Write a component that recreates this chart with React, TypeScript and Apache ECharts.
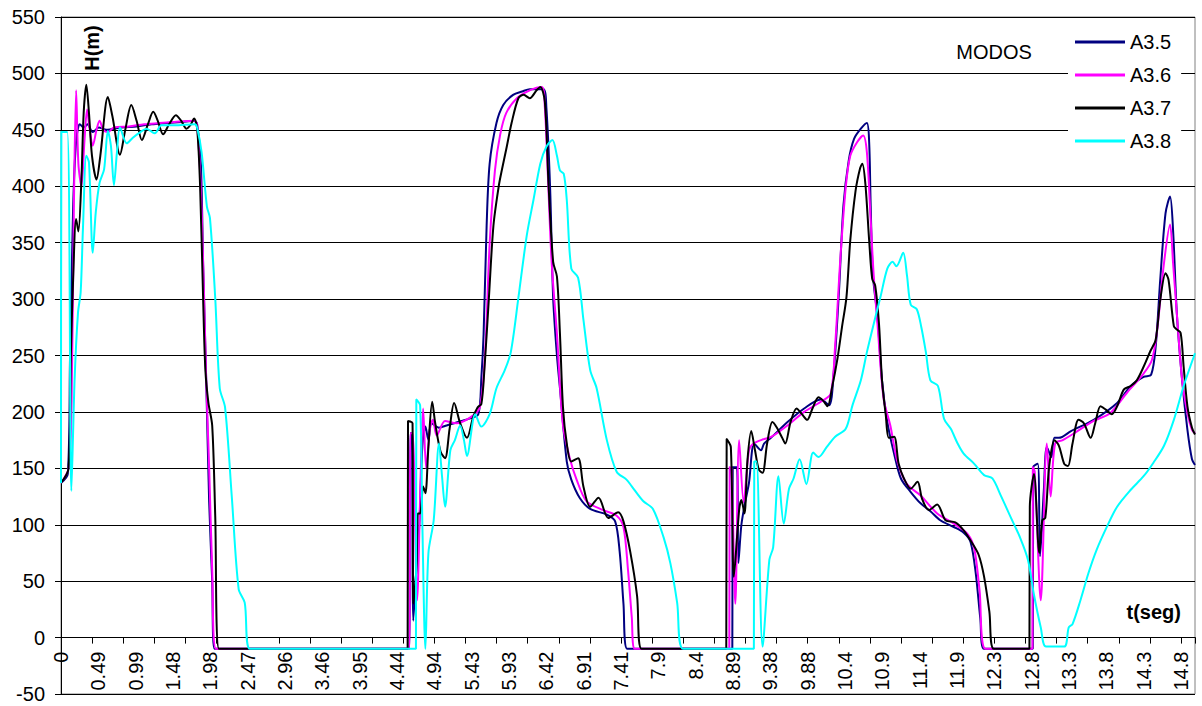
import React, { useEffect, useRef } from "react";
import * as echarts from "echarts";

const SERIES_NAMES = ["A3.5", "A3.6", "A3.7", "A3.8"];
const SERIES_COLORS = ["#000080", "#FF00FF", "#000000", "#00FFFF"];

const X_TICK_LABELS = [
  "0", "0.49", "0.99", "1.48", "1.98", "2.47", "2.96", "3.46", "3.95", "4.44",
  "4.94", "5.43", "5.93", "6.42", "6.91", "7.41", "7.9", "8.4", "8.89", "9.38",
  "9.88", "10.4", "10.9", "11.4", "11.9", "12.3", "12.8", "13.3", "13.8", "14.3", "14.8",
];
const LABEL_STEP = 0.49383;
const TICK_STEP = (LABEL_STEP * 5) / 6;
const X_MAX = 15.0;
const Y_MIN = -50;
const Y_MAX = 550;
const Y_STEP = 50;

// [t (s), H (m)]
const A35: number[][] = [
  [0, 137], [0.09, 145], [0.12, 250], [0.16, 380], [0.2, 440], [0.25, 455], [0.3, 452], [0.35, 455],
  [0.42, 448], [0.5, 452], [0.6, 450], [0.8, 452], [1.0, 453], [1.2, 455], [1.4, 456], [1.6, 457],
  [1.76, 458], [1.8, 455], [1.85, 420], [1.88, 330], [1.92, 230], [1.96, 120], [2.0, 50], [2.03, -10],
  [4.61, -10], [4.62, 181], [4.64, 181], [4.66, 15], [4.7, 60], [4.74, 101], [4.78, 170], [4.82, 187],
  [4.86, 175], [4.9, 190], [5.0, 186], [5.1, 188], [5.2, 190], [5.3, 192], [5.4, 194], [5.52, 198],
  [5.56, 230], [5.59, 269], [5.63, 365], [5.67, 420], [5.76, 456], [5.85, 472], [5.98, 481], [6.1, 484],
  [6.2, 486], [6.38, 486], [6.42, 470], [6.47, 398], [6.51, 301], [6.56, 250], [6.6, 221], [6.69, 156],
  [6.75, 140], [6.86, 124], [7.0, 114], [7.22, 109], [7.33, 103], [7.39, 76], [7.44, 30], [7.49, -10],
  [8.88, -10], [8.885, 151], [8.94, 151], [8.96, 66], [9.0, 100], [9.05, 120], [9.1, 137], [9.17, 172],
  [9.26, 166], [9.3, 172], [9.39, 177], [9.61, 191], [9.83, 203], [10.05, 211], [10.16, 206], [10.22, 234],
  [10.29, 306], [10.35, 383], [10.42, 423], [10.49, 442], [10.58, 451], [10.66, 456], [10.69, 439],
  [10.71, 383], [10.74, 321], [10.8, 284], [10.86, 228], [10.93, 191], [11.02, 163], [11.11, 141],
  [11.24, 129], [11.37, 119], [11.5, 112], [11.63, 104], [11.81, 98], [11.94, 93], [12.03, 85], [12.1, 57],
  [12.16, 17], [12.21, -10],
  [12.855, -10], [12.86, 151], [12.92, 154], [12.95, 72], [13.0, 130], [13.04, 169], [13.1, 160],
  [13.14, 177], [13.2, 177], [13.36, 183], [13.66, 193], [13.97, 208], [14.15, 223], [14.32, 231],
  [14.42, 233], [14.48, 258], [14.54, 317], [14.61, 376], [14.67, 391], [14.71, 361], [14.76, 287],
  [14.83, 228], [14.9, 184], [14.96, 158], [15.0, 153],
];

const A36: number[][] = [
  [0, 137], [0.1, 150], [0.14, 210], [0.17, 380], [0.2, 485], [0.23, 420], [0.27, 400], [0.31, 440],
  [0.345, 468], [0.38, 450], [0.42, 436], [0.47, 450], [0.51, 458], [0.56, 450], [0.62, 448], [0.7, 452],
  [0.9, 453], [1.1, 455], [1.3, 456], [1.5, 457], [1.76, 458], [1.8, 455], [1.86, 380], [1.92, 230],
  [1.96, 150], [2.0, 60], [2.05, -10],
  [4.61, -10], [4.62, 181], [4.65, 181], [4.71, 33], [4.76, 150], [4.79, 203], [4.83, 150], [4.88, 185],
  [4.92, 193], [4.97, 179], [5.08, 192], [5.23, 190], [5.41, 195], [5.54, 204], [5.61, 253], [5.67, 349],
  [5.74, 414], [5.81, 446], [5.89, 465], [6.03, 478], [6.2, 485], [6.36, 488], [6.4, 470], [6.44, 410],
  [6.49, 333], [6.56, 269], [6.64, 188], [6.73, 159], [6.82, 140], [6.95, 121], [7.17, 113], [7.35, 108],
  [7.44, 98], [7.5, 60], [7.55, 18], [7.59, -10],
  [8.84, -10], [8.845, 151], [8.87, 150], [8.92, 30], [8.97, 175], [9.03, 120], [9.1, 166], [9.16, 172],
  [9.3, 176], [9.4, 178], [9.61, 188], [9.83, 200], [10.05, 209], [10.18, 216], [10.24, 259], [10.31, 337],
  [10.38, 399], [10.44, 427], [10.53, 439], [10.61, 445], [10.66, 430], [10.71, 370], [10.75, 321],
  [10.8, 278], [10.88, 212], [10.97, 188], [11.06, 157], [11.19, 136], [11.37, 126], [11.59, 110],
  [11.81, 101], [11.99, 92], [12.08, 79], [12.15, 42], [12.23, -10],
  [12.85, -10], [12.855, 151], [12.88, 147], [12.96, 33], [13.04, 172], [13.09, 125], [13.15, 172],
  [13.25, 175], [13.4, 181], [13.66, 192], [13.88, 199], [14.1, 217], [14.32, 234], [14.43, 246],
  [14.5, 273], [14.59, 332], [14.67, 366], [14.71, 332], [14.76, 287], [14.83, 228], [14.9, 199],
  [14.96, 184], [15.0, 181],
];

const A37: number[][] = [
  [0, 137], [0.1, 150], [0.13, 249], [0.16, 317], [0.2, 371], [0.23, 360], [0.27, 406], [0.3, 465],
  [0.335, 490], [0.37, 465], [0.41, 427], [0.47, 406], [0.52, 427], [0.62, 479], [0.68, 462], [0.78, 428],
  [0.85, 450], [0.93, 472], [1.0, 458], [1.07, 441], [1.15, 455], [1.22, 466], [1.28, 458], [1.35, 446],
  [1.43, 455], [1.52, 463], [1.59, 458], [1.66, 451], [1.72, 455], [1.76, 460], [1.8, 452], [1.84, 400],
  [1.88, 300], [1.91, 237], [1.95, 208], [2.0, 188], [2.04, 108], [2.09, -10],
  [4.585, -10], [4.59, 192], [4.65, 190], [4.66, 30], [4.7, 60], [4.72, 110], [4.75, 110], [4.79, 134],
  [4.82, 128], [4.86, 169], [4.91, 209], [4.95, 190], [5.02, 165], [5.08, 159], [5.14, 185], [5.2, 208],
  [5.28, 190], [5.37, 177], [5.45, 195], [5.51, 204], [5.56, 207], [5.6, 237], [5.66, 301], [5.72, 365],
  [5.79, 400], [5.83, 414], [5.89, 433], [5.96, 456], [6.05, 478], [6.12, 481], [6.2, 478], [6.29, 485],
  [6.34, 488], [6.4, 475], [6.45, 400], [6.51, 333], [6.56, 320], [6.6, 269], [6.64, 204], [6.69, 172],
  [6.75, 156], [6.84, 159], [6.91, 134], [7.0, 116], [7.11, 124], [7.24, 106], [7.37, 111], [7.44, 103],
  [7.53, 76], [7.62, 37], [7.68, -10],
  [8.8, -10], [8.805, 176], [8.86, 169], [8.9, 54], [8.97, 113], [9.0, 122], [9.04, 110], [9.08, 157],
  [9.13, 183], [9.18, 166], [9.23, 149], [9.28, 146], [9.34, 172], [9.41, 191], [9.47, 186], [9.54, 177],
  [9.58, 172], [9.65, 191], [9.73, 203], [9.8, 198], [9.87, 193], [9.94, 203], [10.02, 213], [10.08, 210],
  [10.14, 205], [10.2, 222], [10.27, 247], [10.33, 275], [10.39, 302], [10.44, 352], [10.51, 396],
  [10.57, 416], [10.6, 420], [10.64, 402], [10.69, 352], [10.73, 318], [10.77, 312], [10.82, 278],
  [10.86, 228], [10.91, 197], [10.95, 177], [11.02, 178], [11.08, 154], [11.15, 141], [11.24, 132],
  [11.33, 138], [11.39, 123], [11.48, 113], [11.59, 118], [11.7, 104], [11.83, 102], [11.94, 95],
  [12.05, 84], [12.14, 73], [12.21, 54], [12.28, 23], [12.34, -10],
  [12.81, -10], [12.815, 116], [12.87, 145], [12.94, 75], [12.98, 104], [13.02, 106], [13.07, 151],
  [13.14, 175], [13.2, 170], [13.27, 154], [13.32, 152], [13.38, 172], [13.46, 193], [13.53, 190],
  [13.62, 177], [13.68, 190], [13.75, 205], [13.82, 202], [13.9, 198], [13.97, 205], [14.06, 220],
  [14.15, 223], [14.23, 228], [14.32, 240], [14.41, 254], [14.48, 264], [14.54, 299], [14.61, 323],
  [14.65, 317], [14.72, 276], [14.76, 273], [14.81, 270], [14.85, 240], [14.9, 205], [14.96, 186], [15.0, 180],
];

const A38: number[][] = [
  [0, 137], [0.005, 448], [0.083, 448], [0.137, 130], [0.18, 229], [0.225, 288], [0.26, 306], [0.29, 362],
  [0.335, 427], [0.37, 421], [0.42, 341], [0.46, 377], [0.51, 403], [0.57, 415], [0.62, 449], [0.66, 436],
  [0.7, 401], [0.74, 430], [0.78, 452], [0.87, 438], [0.95, 443], [1.05, 448], [1.13, 451], [1.24, 447],
  [1.33, 454], [1.5, 454], [1.77, 455], [1.8, 452], [1.86, 430], [1.93, 382], [1.97, 372], [2.04, 301],
  [2.1, 221], [2.17, 204], [2.26, 124], [2.35, 43], [2.43, 31], [2.5, -10],
  [4.695, -10], [4.7, 211], [4.75, 206], [4.78, 100], [4.82, -10], [4.86, 75], [4.93, 104], [5.0, 172],
  [5.04, 143], [5.08, 116], [5.15, 166], [5.21, 175], [5.28, 188], [5.33, 175], [5.37, 161], [5.48, 198],
  [5.56, 187], [5.67, 198], [5.76, 221], [5.87, 237], [5.95, 253], [6.05, 301], [6.16, 356], [6.25, 388],
  [6.34, 420], [6.42, 435], [6.5, 441], [6.56, 427], [6.6, 414], [6.65, 411], [6.69, 388], [6.75, 327],
  [6.84, 319], [6.91, 282], [7.0, 237], [7.085, 221], [7.22, 175], [7.35, 147], [7.48, 140], [7.55, 134],
  [7.7, 121], [7.83, 114], [7.97, 89], [8.06, 66], [8.15, 31], [8.23, -10],
  [9.165, -10], [9.17, 156], [9.2, 156], [9.28, -8], [9.37, 69], [9.42, 80], [9.49, 143], [9.56, 101],
  [9.63, 132], [9.69, 141], [9.77, 158], [9.86, 136], [9.95, 164], [10.02, 160], [10.13, 169],
  [10.24, 178], [10.38, 185], [10.47, 206], [10.58, 228], [10.66, 253], [10.75, 278], [10.84, 302],
  [10.93, 327], [11.0, 333], [11.05, 329], [11.14, 341], [11.19, 321], [11.24, 295], [11.32, 291],
  [11.38, 275], [11.44, 253], [11.5, 228], [11.6, 223], [11.68, 194], [11.77, 185], [11.86, 172],
  [11.94, 163], [12.08, 154], [12.21, 144], [12.32, 141], [12.43, 126], [12.56, 107], [12.69, 88],
  [12.79, 69], [12.87, 38], [12.96, 9], [13.03, -8], [13.27, -8], [13.33, 9], [13.38, 12], [13.48, 32],
  [13.59, 57], [13.7, 78], [13.84, 99], [13.97, 116], [14.15, 131], [14.32, 143], [14.45, 155],
  [14.59, 170], [14.72, 193], [14.85, 223], [15.0, 252],
];

const SERIES_DATA = [A35, A36, A37, A38];

const FONT = "'Liberation Sans', Arial, sans-serif";
const FS = 20;

const GRID_TOP = 17;
const GRID_BOTTOM = 12;
const CHART_H = 706;

export default function App() {
  const ref = useRef<HTMLDivElement>(null);

  useEffect(() => {
    if (!ref.current) return;
    const chart = echarts.init(ref.current, undefined, { renderer: "svg" });
    const labelFor = (v: number) => {
      const i = Math.round(v / LABEL_STEP);
      if (Math.abs(v - i * LABEL_STEP) > 1e-3) return "";
      return X_TICK_LABELS[i] ?? "";
    };
    // distance from the grid bottom to the value 0, so the category axis sits on H = 0
    const gridH = CHART_H - GRID_TOP - GRID_BOTTOM;
    const zeroOffset = -((0 - Y_MIN) / (Y_MAX - Y_MIN)) * gridH;

    chart.setOption({
      animation: false,
      backgroundColor: "#ffffff",
      textStyle: { fontFamily: FONT },
      grid: {
        left: 61,
        right: 7,
        top: GRID_TOP,
        bottom: GRID_BOTTOM,
        containLabel: false,
        outerBoundsMode: "none",
        show: true,
        borderColor: "#808080",
        borderWidth: 1,
        backgroundColor: "transparent",
      },
      legend: {
        orient: "vertical",
        left: 1068,
        top: 21,
        padding: [10, 10, 10, 7],
        itemGap: 11,
        itemWidth: 50,
        itemHeight: 3,
        icon: "rect",
        backgroundColor: "#ffffff",
        textStyle: { fontSize: FS, color: "#000", fontFamily: FONT, lineHeight: 22 },
        data: SERIES_NAMES,
      },
      xAxis: [
        {
          type: "value",
          min: 0,
          max: X_MAX,
          interval: LABEL_STEP,
          position: "bottom",
          offset: zeroOffset,
          axisLine: { show: true, onZero: false, lineStyle: { color: "#000", width: 1 } },
          axisTick: { show: false },
          splitLine: { show: false },
          axisLabel: {
            rotate: 90,
            margin: 14,
            fontSize: FS,
            color: "#000",
            fontFamily: FONT,
            showMaxLabel: false,
            hideOverlap: false,
            formatter: labelFor,
          },
        },
        {
          type: "value",
          min: 0,
          max: X_MAX,
          interval: TICK_STEP,
          position: "bottom",
          offset: zeroOffset,
          axisLine: { show: true, onZero: false, lineStyle: { color: "#000", width: 1 } },
          axisTick: { show: true, length: 6, lineStyle: { color: "#000", width: 1 } },
          splitLine: { show: false },
          axisLabel: { show: false },
        },
      ],
      yAxis: {
        type: "value",
        min: Y_MIN,
        max: Y_MAX,
        interval: Y_STEP,
        axisLine: { show: true, lineStyle: { color: "#000", width: 1 } },
        axisTick: { show: true, length: 6, lineStyle: { color: "#000" } },
        axisLabel: { fontSize: FS, color: "#000", margin: 16, fontFamily: FONT },
        splitLine: { show: true, lineStyle: { color: "#000", width: 1 } },
      },
      graphic: [
        {
          type: "text",
          x: 92,
          y: 48,
          rotation: Math.PI / 2,
          style: {
            text: "H(m)",
            font: `bold ${FS}px ${FONT}`,
            fill: "#000",
            align: "center",
            verticalAlign: "middle",
          },
          z: 10,
        },
        {
          type: "text",
          x: 1181,
          y: 612,
          style: {
            text: "t(seg)",
            font: `bold ${FS}px ${FONT}`,
            fill: "#000",
            align: "right",
            verticalAlign: "middle",
          },
          z: 10,
        },
        {
          type: "text",
          x: 994,
          y: 52,
          style: {
            text: "MODOS",
            font: `${FS}px ${FONT}`,
            fill: "#000",
            align: "center",
            verticalAlign: "middle",
          },
          z: 10,
        },
      ],
      series: SERIES_NAMES.map((name, i) => ({
        name,
        type: "line",
        xAxisIndex: 0,
        data: SERIES_DATA[i],
        showSymbol: false,
        symbol: "none",
        smooth: 0.3,
        color: SERIES_COLORS[i],
        lineStyle: { color: SERIES_COLORS[i], width: 2 },
        emphasis: { disabled: true },
      })),
    });
    return () => chart.dispose();
  }, []);

  return <div ref={ref} style={{ width: 1202, height: CHART_H, position: "absolute", left: 0, top: 0 }} />;
}
